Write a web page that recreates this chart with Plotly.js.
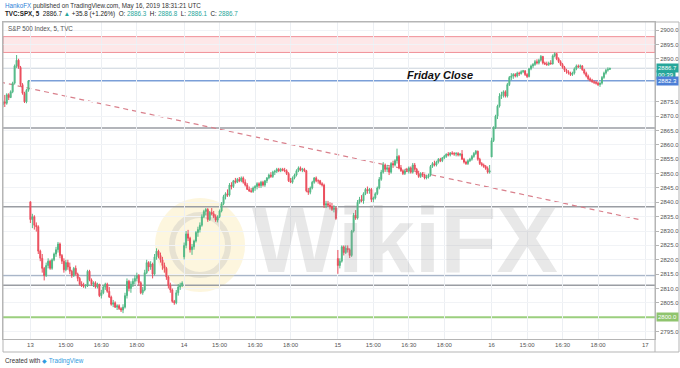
<!DOCTYPE html>
<html>
<head>
<meta charset="utf-8">
<script src="https://cdn.plot.ly/plotly-3.0.1.min.js"></script>
<style>html,body{margin:0;padding:0;background:#fff}#chart{width:680px;height:368px}</style>
</head>
<body>
<div id="chart"></div>
<script>
// 5-minute bars [open, high, low, close] per session (UTC 13:30-20:00)
const may10 = [
[2874.0,2875.5,2873.0,2875.0],[2875.0,2877.4,2873.2,2874.5],[2874.5,2878.0,2874.0,2877.5],[2877.5,2878.0,2875.6,2876.5],
[2876.5,2879.0,2876.3,2878.5],[2878.5,2882.0,2878.0,2881.5],[2881.5,2888.0,2881.0,2887.5],[2887.5,2891.3,2886.8,2889.5],
[2889.5,2890.0,2886.5,2887.0],[2887.0,2887.5,2880.5,2881.0],[2881.0,2881.5,2877.5,2878.0],[2878.0,2878.5,2874.6,2875.0],
[2875.0,2879.5,2874.5,2879.0],[2879.0,2882.6,2878.5,2882.3]
];
const may13 = [
[2840.2,2840.2,2832.8,2834.0],[2834.0,2836.0,2831.0,2835.0],[2835.0,2835.5,2830.5,2832.0],[2832.0,2833.0,2829.8,2831.5],
[2831.5,2832.0,2822.0,2823.0],[2823.0,2823.5,2819.5,2820.5],[2820.5,2822.0,2815.5,2817.0],[2817.0,2817.5,2812.8,2814.5],
[2814.5,2819.0,2814.0,2818.0],[2818.0,2820.5,2817.0,2819.5],[2819.5,2820.0,2816.5,2817.0],[2817.0,2820.5,2816.5,2820.0],
[2820.0,2822.5,2819.5,2822.0],[2822.0,2824.5,2821.0,2823.5],[2823.5,2826.2,2822.5,2825.5],[2825.5,2826.0,2820.5,2821.5],
[2821.5,2822.0,2818.5,2819.5],[2819.5,2820.5,2815.5,2816.5],[2816.5,2820.0,2816.0,2819.0],[2819.0,2820.0,2816.5,2817.5],
[2817.5,2819.0,2815.0,2816.0],[2816.0,2816.5,2813.7,2814.5],[2814.5,2817.5,2814.0,2817.0],[2817.0,2818.0,2814.5,2815.0],
[2815.0,2815.5,2812.5,2813.5],[2813.5,2814.0,2811.0,2811.5],[2811.5,2812.5,2810.5,2811.0],[2811.0,2812.0,2810.2,2810.8],
[2810.8,2811.5,2810.0,2811.0],[2811.0,2816.5,2810.5,2816.0],[2816.0,2816.5,2812.5,2813.0],[2813.0,2813.5,2811.0,2811.5],
[2811.5,2812.5,2810.5,2812.0],[2812.0,2812.5,2810.0,2810.5],[2810.5,2812.0,2810.0,2811.5],[2811.5,2811.5,2807.0,2807.5],
[2807.5,2809.5,2806.5,2808.5],[2808.5,2811.0,2808.0,2810.5],[2810.5,2812.0,2809.5,2811.5],[2811.5,2812.0,2808.5,2809.0],
[2809.0,2810.5,2806.7,2807.0],[2807.0,2807.5,2804.0,2804.5],[2804.5,2806.0,2803.5,2805.0],[2805.0,2805.5,2803.2,2803.5],
[2803.5,2804.5,2802.5,2804.0],[2804.0,2804.5,2802.5,2803.0],[2803.0,2803.5,2801.8,2802.5],[2802.5,2804.5,2801.4,2803.5],
[2803.5,2808.5,2803.0,2807.5],[2807.5,2813.5,2806.5,2812.5],[2812.5,2813.0,2809.0,2810.0],[2810.0,2812.5,2808.5,2811.5],
[2811.5,2813.5,2810.5,2812.5],[2812.5,2814.5,2811.5,2813.5],[2813.5,2815.5,2812.5,2814.5],[2814.5,2815.0,2811.0,2812.0],
[2812.0,2812.5,2808.0,2808.5],[2808.5,2810.5,2807.8,2809.5],[2809.5,2816.5,2809.0,2815.5],[2815.5,2820.0,2815.0,2819.0],
[2819.0,2819.5,2816.0,2817.5],[2817.5,2819.5,2816.5,2818.5],[2818.5,2819.0,2813.5,2815.0],[2815.0,2822.0,2814.5,2821.0],
[2821.0,2824.0,2820.0,2823.0],[2823.0,2823.5,2820.5,2821.5],[2821.5,2822.5,2819.0,2820.0],[2820.0,2821.0,2816.5,2818.0],
[2818.0,2819.0,2815.5,2817.0],[2817.0,2817.5,2813.0,2814.0],[2814.0,2814.5,2810.0,2811.0],[2811.0,2812.0,2808.5,2809.5],
[2809.5,2810.0,2805.0,2805.5],[2805.5,2806.0,2804.3,2805.0],[2805.0,2809.5,2804.5,2808.5],[2808.5,2811.5,2807.5,2810.5],
[2810.5,2812.0,2809.5,2811.0],[2811.0,2812.5,2810.5,2811.9]
];
const may14 = [
[2821.0,2826.0,2820.1,2825.0],[2825.0,2830.0,2824.0,2829.0],[2829.0,2830.4,2826.5,2827.5],[2827.5,2828.0,2822.5,2823.5],
[2823.5,2825.5,2821.7,2824.5],[2824.5,2827.0,2823.5,2826.5],[2826.5,2830.0,2826.0,2829.5],[2829.5,2831.5,2828.0,2830.5],
[2830.5,2833.0,2829.5,2832.0],[2832.0,2835.8,2831.5,2835.0],[2835.0,2837.4,2834.5,2836.8],[2836.8,2838.0,2835.5,2837.5],
[2837.5,2838.0,2833.2,2834.0],[2834.0,2837.0,2833.5,2836.5],[2836.5,2838.0,2835.5,2836.0],[2836.0,2837.0,2834.5,2835.0],
[2835.0,2835.8,2833.2,2833.8],[2833.8,2835.5,2833.0,2835.0],[2835.0,2837.5,2834.5,2837.0],[2837.0,2840.1,2836.5,2839.5],
[2839.5,2842.6,2839.0,2842.0],[2842.0,2843.5,2841.0,2843.0],[2843.0,2844.5,2841.9,2842.5],[2842.5,2846.7,2842.0,2846.0],
[2846.0,2847.0,2844.5,2845.5],[2845.5,2847.8,2845.0,2847.5],[2847.5,2848.5,2846.5,2847.0],[2847.0,2848.5,2846.7,2848.0],
[2848.0,2848.8,2847.0,2847.5],[2847.5,2849.0,2847.0,2848.5],[2848.5,2849.0,2846.5,2847.0],[2847.0,2848.0,2845.5,2846.0],
[2846.0,2846.7,2844.3,2844.5],[2844.5,2845.5,2843.6,2844.0],[2844.0,2845.0,2843.3,2843.8],[2843.8,2845.5,2843.3,2845.0],
[2845.0,2846.0,2844.0,2845.5],[2845.5,2847.0,2844.5,2846.5],[2846.5,2847.0,2845.0,2845.8],[2845.8,2847.5,2845.0,2847.0],
[2847.0,2847.5,2845.5,2846.0],[2846.0,2847.8,2845.4,2847.5],[2847.5,2848.8,2846.7,2848.5],[2848.5,2850.0,2848.0,2849.5],
[2849.5,2850.5,2848.5,2849.0],[2849.0,2851.0,2848.5,2850.5],[2850.5,2851.3,2849.5,2850.8],[2850.8,2852.0,2850.2,2851.5],
[2851.5,2852.0,2850.5,2851.0],[2851.0,2852.0,2850.5,2851.5],[2851.5,2852.0,2850.8,2851.2],[2851.2,2852.0,2850.5,2851.0],
[2851.0,2851.5,2849.5,2850.0],[2850.0,2850.5,2847.1,2847.5],[2847.5,2848.5,2846.7,2847.0],[2847.0,2849.0,2846.5,2848.5],
[2848.5,2850.0,2848.0,2849.5],[2849.5,2851.5,2849.0,2851.0],[2851.0,2852.5,2850.5,2852.0],[2852.0,2852.5,2850.8,2851.2],
[2851.2,2852.0,2850.5,2851.5],[2851.5,2852.0,2850.5,2851.0],[2851.0,2851.3,2843.5,2844.0],[2844.0,2845.0,2842.6,2843.5],
[2843.5,2845.5,2842.8,2845.0],[2845.0,2847.5,2844.5,2847.0],[2847.0,2848.8,2846.5,2848.5],[2848.5,2849.0,2847.0,2847.5],
[2847.5,2848.0,2846.5,2847.5],[2847.5,2847.8,2846.0,2846.5],[2846.5,2847.0,2845.5,2846.0],[2846.0,2846.5,2838.0,2839.0],
[2839.0,2840.5,2838.0,2839.5],[2839.5,2840.5,2838.5,2839.0],[2839.0,2840.0,2837.5,2838.5],[2838.5,2839.8,2837.0,2837.5],
[2837.5,2839.0,2836.5,2838.0],[2838.0,2838.5,2833.9,2834.4]
];
const may15 = [
[2820.4,2823.4,2815.1,2818.0],[2818.0,2820.5,2817.0,2819.5],[2819.5,2825.0,2819.0,2824.5],[2824.5,2825.0,2821.5,2822.5],
[2822.5,2825.0,2822.0,2824.0],[2824.0,2825.0,2822.5,2823.5],[2823.5,2824.0,2820.6,2821.5],[2821.5,2830.4,2821.0,2830.0],
[2830.0,2836.3,2829.5,2835.5],[2835.5,2837.3,2833.9,2834.5],[2834.5,2840.8,2834.0,2840.0],[2840.0,2841.9,2839.5,2841.0],
[2841.0,2842.5,2840.0,2840.5],[2840.5,2843.5,2839.5,2843.0],[2843.0,2845.0,2842.5,2844.5],[2844.5,2845.5,2843.0,2844.0],
[2844.0,2845.0,2843.0,2844.5],[2844.5,2845.0,2840.1,2841.0],[2841.0,2842.0,2840.0,2841.5],[2841.5,2843.5,2841.0,2843.0],
[2843.0,2845.5,2842.5,2845.0],[2845.0,2848.8,2844.5,2848.0],[2848.0,2851.3,2847.5,2850.5],[2850.5,2854.0,2850.0,2853.0],
[2853.0,2853.5,2850.6,2851.5],[2851.5,2853.0,2850.5,2852.0],[2852.0,2852.5,2849.5,2850.5],[2850.5,2854.0,2850.0,2853.5],
[2853.5,2854.5,2852.0,2853.0],[2853.0,2855.0,2852.5,2854.5],[2854.5,2858.7,2853.5,2856.0],[2856.0,2856.5,2851.5,2852.0],
[2852.0,2853.0,2850.6,2851.0],[2851.0,2851.5,2849.5,2850.0],[2850.0,2851.5,2849.5,2851.0],[2851.0,2852.0,2850.5,2850.8],
[2850.8,2852.5,2850.0,2852.0],[2852.0,2852.5,2850.0,2850.5],[2850.5,2853.7,2850.0,2853.0],[2853.0,2853.7,2851.0,2851.5],
[2851.5,2852.0,2849.5,2850.0],[2850.0,2851.0,2848.5,2849.0],[2849.0,2850.5,2848.5,2850.0],[2850.0,2850.5,2848.8,2849.5],
[2849.5,2850.0,2848.0,2848.5],[2848.5,2849.5,2848.0,2848.8],[2848.8,2850.0,2848.3,2849.5],[2849.5,2853.0,2849.0,2852.5],
[2852.5,2854.0,2852.0,2853.5],[2853.5,2854.5,2852.5,2853.0],[2853.0,2854.5,2852.5,2854.0],[2854.0,2855.4,2853.5,2855.0],
[2855.0,2855.5,2854.0,2854.5],[2854.5,2855.8,2854.0,2855.5],[2855.5,2856.5,2855.0,2856.0],[2856.0,2857.0,2855.5,2856.8],
[2856.8,2857.5,2856.0,2856.5],[2856.5,2857.5,2856.0,2857.2],[2857.2,2857.8,2856.5,2857.0],[2857.0,2857.5,2856.2,2856.8],
[2856.8,2857.5,2856.0,2857.0],[2857.0,2857.5,2856.0,2856.5],[2856.5,2857.2,2856.0,2856.8],[2856.8,2858.2,2854.8,2855.0],
[2855.0,2855.5,2853.5,2854.0],[2854.0,2854.5,2853.0,2853.5],[2853.5,2855.0,2853.0,2854.5],[2854.5,2855.5,2854.0,2855.0],
[2855.0,2856.5,2854.5,2856.0],[2856.0,2857.5,2855.5,2857.0],[2857.0,2858.2,2856.5,2857.8],[2857.8,2858.0,2854.5,2855.0],
[2855.0,2855.5,2853.0,2853.5],[2853.5,2854.0,2852.5,2853.0],[2853.0,2853.5,2852.0,2852.5],[2852.5,2853.0,2851.3,2851.8],
[2851.8,2852.5,2850.0,2850.5],[2850.5,2853.0,2850.0,2851.0]
];
const may16 = [
[2855.8,2862.5,2855.8,2861.5],[2861.5,2866.5,2861.0,2866.0],[2866.0,2870.5,2865.5,2870.0],[2870.0,2874.0,2869.0,2873.5],
[2873.5,2878.0,2873.0,2877.0],[2877.0,2878.5,2876.0,2877.5],[2877.5,2879.0,2876.5,2878.5],[2878.5,2879.0,2876.5,2877.0],
[2877.0,2881.6,2876.5,2881.0],[2881.0,2884.0,2880.5,2883.5],[2883.5,2885.0,2882.5,2884.0],[2884.0,2885.0,2883.0,2884.5],
[2884.5,2885.0,2883.5,2884.0],[2884.0,2885.5,2883.5,2885.0],[2885.0,2885.5,2884.0,2884.8],[2884.8,2886.0,2884.5,2885.5],
[2885.5,2886.1,2885.0,2885.8],[2885.8,2886.0,2884.0,2884.5],[2884.5,2885.0,2883.3,2883.8],[2883.8,2886.8,2883.5,2886.5],
[2886.5,2888.0,2886.0,2887.5],[2887.5,2888.5,2886.8,2888.0],[2888.0,2889.6,2887.5,2889.0],[2889.0,2889.8,2888.0,2888.5],
[2888.5,2890.0,2888.0,2889.5],[2889.5,2891.3,2889.0,2890.8],[2890.8,2891.0,2888.0,2888.5],[2888.5,2889.0,2887.8,2888.2],
[2888.2,2889.0,2887.5,2888.0],[2888.0,2889.0,2887.5,2888.5],[2888.5,2889.5,2888.0,2888.2],[2888.2,2891.5,2888.0,2891.0],
[2891.0,2892.2,2890.5,2891.8],[2891.8,2892.0,2889.5,2890.0],[2890.0,2890.5,2888.5,2889.0],[2889.0,2889.5,2887.5,2888.0],
[2888.0,2888.5,2886.5,2887.0],[2887.0,2887.5,2885.4,2886.0],[2886.0,2886.5,2884.8,2885.5],[2885.5,2886.0,2884.5,2885.0],
[2885.0,2885.5,2884.0,2884.5],[2884.5,2885.5,2884.0,2885.0],[2885.0,2887.0,2884.5,2886.5],[2886.5,2888.0,2886.0,2887.5],
[2887.5,2888.0,2886.8,2887.2],[2887.2,2888.0,2886.5,2887.5],[2887.5,2887.8,2885.8,2886.2],[2886.2,2886.5,2884.5,2885.0],
[2885.0,2885.5,2883.5,2884.0],[2884.0,2884.5,2882.5,2883.0],[2883.0,2883.5,2882.0,2882.5],[2882.5,2883.0,2881.6,2882.0],
[2882.0,2882.5,2881.2,2881.8],[2881.8,2882.3,2881.0,2881.5],[2881.5,2882.0,2880.5,2881.0],[2881.0,2881.8,2880.2,2881.5],
[2881.5,2884.0,2881.0,2883.5],[2883.5,2885.5,2883.0,2885.0],[2885.0,2886.5,2884.5,2886.0],[2886.0,2887.0,2885.5,2886.3],
[2886.3,2886.8,2886.1,2886.7]
];

// time axis: bar index 0 = May 13 13:30 UTC, 78 bars per session
const tickBars   = [0,18,36,54,78,96,114,132,156,174,192,210,234,252,270,288,312];
const tickLabels = ['13','15:00','16:30','18:00','14','15:00','16:30','18:00','15','15:00','16:30','18:00','16','15:00','16:30','18:00','17'];
// price-axis labels (those hidden behind the coloured price tags are left out)
const priceTicks = [2795,2805,2810,2815,2820,2825,2830,2835,2840,2845,2850,2855,2860,2865,2870,2875,2890,2895,2900];

// drawn levels
const resistanceZone = [2892.2, 2897.7];
const lastPrice = 2886.7;
const fridayClose = 2882.3;
const greyLevels = [2865.9, 2838.5, 2811.1];
const blueGreyLevel = 2814.5;
const supportLevel = 2800.0;
const trendX = [-15.4, 310.3];
const trendY = [2881.9, 2833.8];

const bars = [].concat(may10, may13, may14, may15, may16);
const first = -may10.length;
const x = bars.map((b, k) => k + first);

const UP = '#53b987', DN = '#eb4d5c';
const trace = {
  type: 'candlestick',
  x: x,
  open: bars.map(b => b[0]), high: bars.map(b => b[1]),
  low: bars.map(b => b[2]), close: bars.map(b => b[3]),
  increasing: {line: {color: UP, width: 1}, fillcolor: UP},
  decreasing: {line: {color: DN, width: 1}, fillcolor: DN},
  whiskerwidth: 0, hoverinfo: 'skip', showlegend: false
};

const X0 = -13.9, X1 = 316.9;
const shapes = [
  {type:'rect', xref:'paper', yref:'y', x0:0, x1:1, y0:resistanceZone[0], y1:resistanceZone[1],
   fillcolor:'rgba(242,54,69,0.12)', line:{color:'rgba(235,110,120,0.75)', width:1}, layer:'below'},
  {type:'line', xref:'paper', yref:'y', x0:0, x1:1, y0:lastPrice, y1:lastPrice, line:{color:'#c9d2dc', width:1}, layer:'below'},
  {type:'line', xref:'x', yref:'y', x0:-1, x1:X1, y0:fridayClose, y1:fridayClose, line:{color:'#7b9fd8', width:1.5}, layer:'below'},
  {type:'line', xref:'paper', yref:'y', x0:0, x1:1, y0:blueGreyLevel, y1:blueGreyLevel, line:{color:'#a9b6c9', width:1.5}, layer:'below'},
  {type:'line', xref:'paper', yref:'y', x0:0, x1:1, y0:supportLevel, y1:supportLevel, line:{color:'#9bcf7e', width:2}, layer:'below'},
  {type:'line', xref:'x', yref:'y', x0:trendX[0], x1:trendX[1], y0:trendY[0], y1:trendY[1], line:{color:'#d9808c', width:1.2, dash:'5px,4px'}, layer:'below'},
  {type:'circle', xref:'paper', yref:'paper', x0:(155-3)/652, x1:(245-3)/652, y0:(339-292)/317, y1:(339-198)/317,
   fillcolor:'rgba(250,228,160,0.35)', line:{width:0}, layer:'below'},
  {type:'circle', xref:'paper', yref:'paper', x0:(172-3)/652, x1:(228-3)/652, y0:(339-275)/317, y1:(339-215)/317,
   fillcolor:'rgba(0,0,0,0)', line:{color:'rgba(190,190,190,0.35)', width:6}, layer:'below'},
  {type:'rect', xref:'paper', yref:'paper', x0:0, x1:(679-3)/652, y0:(339-352)/317, y1:1, line:{color:'#b5b5b5', width:1}, fillcolor:'rgba(0,0,0,0)'},
  {type:'line', xref:'paper', yref:'paper', x0:1, x1:1, y0:(339-352)/317, y1:1, line:{color:'#b5b5b5', width:1}}
];
greyLevels.forEach(v => shapes.push({type:'line', xref:'paper', yref:'y', x0:0, x1:1, y0:v, y1:v, line:{color:'#9a9da3', width:1.5}, layer:'below'}));

const G = '#26a69a';
const ann = [
  {xref:'paper', yref:'paper', x:0, y:(339-6)/317, xanchor:'left', yanchor:'middle', showarrow:false,
   text:'<span style="color:#2f7fd8">HankoFX</span> published on TradingView.com, May 16, 2019 18:31:21 UTC',
   font:{size:6.3, color:'#333'}},
  {xref:'paper', yref:'paper', x:0, y:(339-14)/317, xanchor:'left', yanchor:'middle', showarrow:false,
   text:'<b>TVC:SPX, 5</b>  2886.7 <span style="color:'+G+'">▲</span> +35.8 (+1.26%)  O: <span style="color:'+G+'">2886.3</span>  H: <span style="color:'+G+'">2886.8</span>  L: <span style="color:'+G+'">2886.1</span>  C: <span style="color:'+G+'">2886.7</span>',
   font:{size:6.3, color:'#222'}},
  {xref:'paper', yref:'paper', x:3/652, y:(339-28)/317, xanchor:'left', yanchor:'middle', showarrow:false,
   text:'S&P 500 Index, 5, TVC', font:{size:6.3, color:'#555'}},
  {xref:'paper', yref:'paper', x:0, y:(339-361)/317, xanchor:'left', yanchor:'middle', showarrow:false,
   text:'Created with <span style="color:#2f9be0">◆ TradingView</span>', font:{size:6.3, color:'#333'}},
  {xref:'paper', yref:'y', x:(440-3)/652, y:2884.4, xanchor:'center', yanchor:'middle', showarrow:false,
   text:'<b><i>Friday Close</i></b>', font:{size:11, color:'#111'}},
  {xref:'paper', yref:'paper', x:(405-3)/652, y:(339-240)/317, xanchor:'center', yanchor:'middle', showarrow:false,
   text:'<b>WikiFX</b>', font:{size:92, color:'rgba(150,150,150,0.22)'}},
  {xref:'paper', yref:'y', x:1, y:lastPrice, xanchor:'left', yanchor:'middle', showarrow:false, xshift:1,
   text:'2886.7', bgcolor:G, borderpad:1, font:{size:6, color:'#fff'}},
  {xref:'paper', yref:'y', x:1, y:lastPrice, xanchor:'left', yanchor:'middle', showarrow:false, xshift:1, yshift:-7,
   text:'00:39', bgcolor:G, borderpad:1, font:{size:6, color:'#fff'}},
  {xref:'paper', yref:'y', x:1, y:fridayClose, xanchor:'left', yanchor:'middle', showarrow:false, xshift:1,
   text:'2882.3', bgcolor:'#4c7fd6', borderpad:1, font:{size:6, color:'#fff'}},
  {xref:'paper', yref:'y', x:1, y:supportLevel, xanchor:'left', yanchor:'middle', showarrow:false, xshift:1,
   text:'2800.0', bgcolor:'#8fc46e', borderpad:1, font:{size:6, color:'#fff'}}
];

const layout = {
  width:680, height:368,
  margin:{l:3, r:25, t:22, b:29},
  paper_bgcolor:'#fff', plot_bgcolor:'#fff',
  font:{family:'"Liberation Sans", Arial, sans-serif', size:6, color:'#555'},
  showlegend:false, hovermode:false,
  xaxis:{range:[X0, X1], tickmode:'array', tickvals:tickBars, ticktext:tickLabels,
    showgrid:true, gridcolor:'#eceff3', gridwidth:1, zeroline:false,
    showline:true, linecolor:'#b5b5b5', linewidth:1, mirror:true,
    ticks:'', tickfont:{size:6, color:'#555'}, rangeslider:{visible:false}, fixedrange:true},
  yaxis:{range:[2792.4, 2902.8], side:'right', tickmode:'array', tickvals:priceTicks, tickformat:'.1f',
    showgrid:true, gridcolor:'#f1f3f6', gridwidth:1, zeroline:false,
    showline:true, linecolor:'#b5b5b5', linewidth:1, mirror:true,
    ticks:'outside', ticklen:3, tickcolor:'#b5b5b5', tickfont:{size:6, color:'#555'}, fixedrange:true},
  shapes:shapes, annotations:ann
};

Plotly.newPlot('chart', [trace], layout, {displayModeBar:false, staticPlot:true});
</script>
</body>
</html>
